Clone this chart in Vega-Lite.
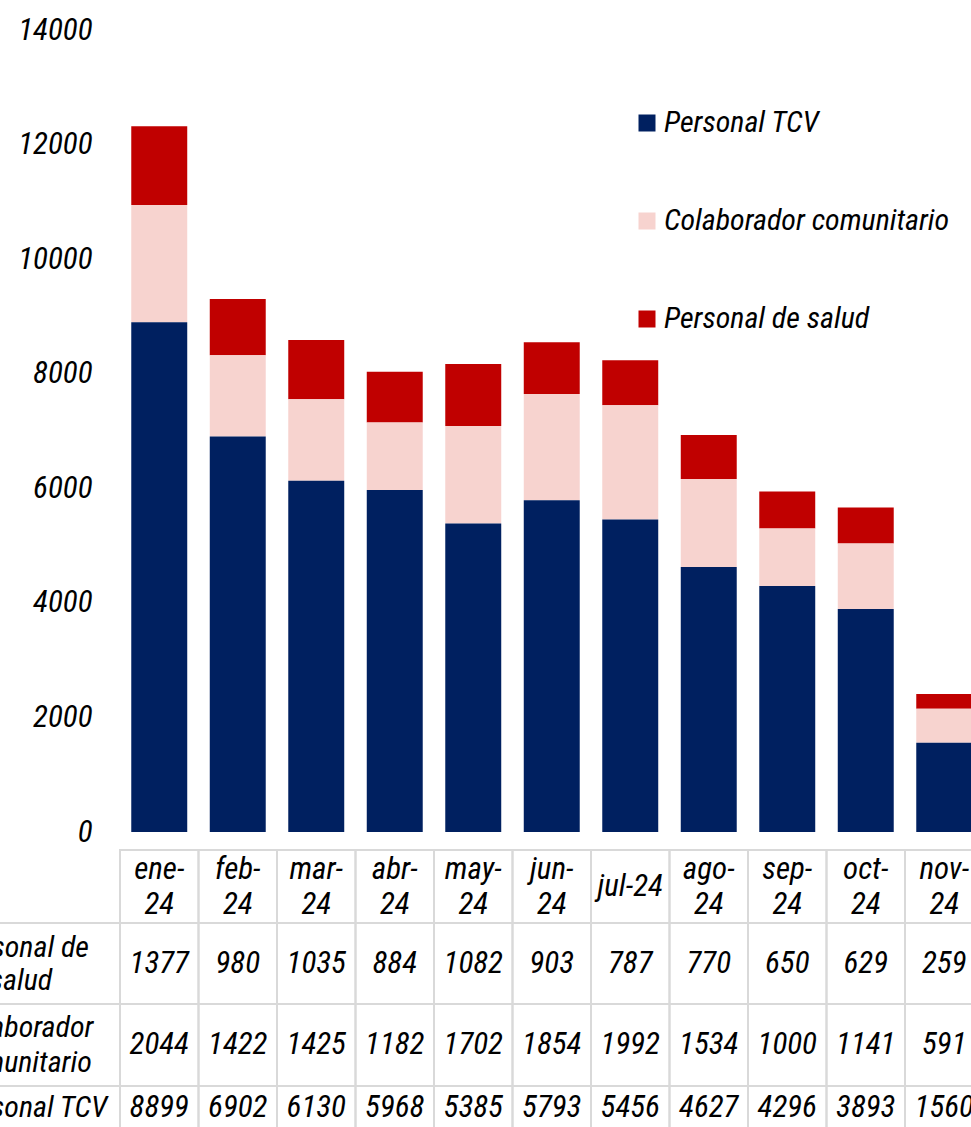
{
  "$schema": "https://vega.github.io/schema/vega-lite/v6.json",
  "width": 971,
  "height": 1127,
  "autosize": {"type": "none"},
  "padding": 0,
  "background": "white",
  "config": {
    "view": {"stroke": null},
    "font": "'Roboto Condensed', 'Noto Sans Condensed', 'Arial Narrow', 'Liberation Sans Narrow', 'DejaVu Sans Condensed', 'Liberation Sans', sans-serif",
    "text": {"font": "'Roboto Condensed', 'Noto Sans Condensed', 'Arial Narrow', 'Liberation Sans Narrow', 'DejaVu Sans Condensed', 'Liberation Sans', sans-serif", "fontSize": 31, "fontStyle": "italic", "color": "black", "align": "center", "baseline": "middle", "lineHeight": 34}
  },
  "datasets": {
    "valores": [
      {"mes": "ene-24", "serie": "Personal de salud", "valor": 1377},
      {"mes": "feb-24", "serie": "Personal de salud", "valor": 980},
      {"mes": "mar-24", "serie": "Personal de salud", "valor": 1035},
      {"mes": "abr-24", "serie": "Personal de salud", "valor": 884},
      {"mes": "may-24", "serie": "Personal de salud", "valor": 1082},
      {"mes": "jun-24", "serie": "Personal de salud", "valor": 903},
      {"mes": "jul-24", "serie": "Personal de salud", "valor": 787},
      {"mes": "ago-24", "serie": "Personal de salud", "valor": 770},
      {"mes": "sep-24", "serie": "Personal de salud", "valor": 650},
      {"mes": "oct-24", "serie": "Personal de salud", "valor": 629},
      {"mes": "nov-24", "serie": "Personal de salud", "valor": 259},
      {"mes": "ene-24", "serie": "Colaborador comunitario", "valor": 2044},
      {"mes": "feb-24", "serie": "Colaborador comunitario", "valor": 1422},
      {"mes": "mar-24", "serie": "Colaborador comunitario", "valor": 1425},
      {"mes": "abr-24", "serie": "Colaborador comunitario", "valor": 1182},
      {"mes": "may-24", "serie": "Colaborador comunitario", "valor": 1702},
      {"mes": "jun-24", "serie": "Colaborador comunitario", "valor": 1854},
      {"mes": "jul-24", "serie": "Colaborador comunitario", "valor": 1992},
      {"mes": "ago-24", "serie": "Colaborador comunitario", "valor": 1534},
      {"mes": "sep-24", "serie": "Colaborador comunitario", "valor": 1000},
      {"mes": "oct-24", "serie": "Colaborador comunitario", "valor": 1141},
      {"mes": "nov-24", "serie": "Colaborador comunitario", "valor": 591},
      {"mes": "ene-24", "serie": "Personal TCV", "valor": 8899},
      {"mes": "feb-24", "serie": "Personal TCV", "valor": 6902},
      {"mes": "mar-24", "serie": "Personal TCV", "valor": 6130},
      {"mes": "abr-24", "serie": "Personal TCV", "valor": 5968},
      {"mes": "may-24", "serie": "Personal TCV", "valor": 5385},
      {"mes": "jun-24", "serie": "Personal TCV", "valor": 5793},
      {"mes": "jul-24", "serie": "Personal TCV", "valor": 5456},
      {"mes": "ago-24", "serie": "Personal TCV", "valor": 4627},
      {"mes": "sep-24", "serie": "Personal TCV", "valor": 4296},
      {"mes": "oct-24", "serie": "Personal TCV", "valor": 3893},
      {"mes": "nov-24", "serie": "Personal TCV", "valor": 1560}
    ],
    "meses": [
      {"mes": "ene-24", "etiqueta": ["ene-", "24"]},
      {"mes": "feb-24", "etiqueta": ["feb-", "24"]},
      {"mes": "mar-24", "etiqueta": ["mar-", "24"]},
      {"mes": "abr-24", "etiqueta": ["abr-", "24"]},
      {"mes": "may-24", "etiqueta": ["may-", "24"]},
      {"mes": "jun-24", "etiqueta": ["jun-", "24"]},
      {"mes": "jul-24", "etiqueta": ["jul-24"]},
      {"mes": "ago-24", "etiqueta": ["ago-", "24"]},
      {"mes": "sep-24", "etiqueta": ["sep-", "24"]},
      {"mes": "oct-24", "etiqueta": ["oct-", "24"]},
      {"mes": "nov-24", "etiqueta": ["nov-", "24"]}
    ],
    "filas": [
      {"serie": "Personal de salud", "rotulo": ["Personal de", "salud"]},
      {"serie": "Colaborador comunitario", "rotulo": ["Colaborador", "comunitario"]},
      {"serie": "Personal TCV", "rotulo": ["Personal TCV"]}
    ]
  },
  "layer": [
    {
      "data": {"name": "valores"},
      "transform": [{"calculate": "indexof(['Personal TCV', 'Colaborador comunitario', 'Personal de salud'], datum.serie)", "as": "orden_pila"}],
      "mark": {"type": "bar"},
      "encoding": {
        "x": {"field": "mes", "type": "nominal", "axis": null,
              "scale": {"type": "band", "domain": ["ene-24","feb-24","mar-24","abr-24","may-24","jun-24","jul-24","ago-24","sep-24","oct-24","nov-24"], "range": [120, 983.5], "paddingInner": 0.287, "paddingOuter": 0.1435}},
        "y": {"field": "valor", "type": "quantitative", "stack": "zero",
              "scale": {"domain": [0, 14000], "range": [832, 30], "nice": false},
              "axis": {"title": null, "values": [0,2000,4000,6000,8000,10000,12000,14000], "format": "d", "domain": false, "ticks": false, "grid": false, "labelPadding": 0, "offset": -92, "labelFont": "'Roboto Condensed', 'Noto Sans Condensed', 'Arial Narrow', 'Liberation Sans Narrow', 'DejaVu Sans Condensed', 'Liberation Sans', sans-serif", "labelFontSize": 31, "labelFontStyle": "italic", "labelColor": "black", "labelBaseline": "middle"}},
        "order": {"field": "orden_pila", "type": "quantitative", "sort": "ascending"},
        "color": {"field": "serie", "type": "nominal",
                  "scale": {"domain": ["Personal TCV", "Colaborador comunitario", "Personal de salud"], "range": ["#002060", "#F7D3CF", "#C00000"]},
                  "legend": {"title": null, "orient": "none", "legendX": 632, "legendY": 108, "symbolType": "square", "symbolSize": 289, "symbolStrokeWidth": 0, "labelFont": "'Roboto Condensed', 'Noto Sans Condensed', 'Arial Narrow', 'Liberation Sans Narrow', 'DejaVu Sans Condensed', 'Liberation Sans', sans-serif", "labelFontSize": 30, "labelFontStyle": "italic", "labelColor": "black", "labelOffset": 2, "rowPadding": 68, "labelLimit": 400, "padding": 0}}
      }
    },
    {
      "data": {"name": "meses"},
      "encoding": {
        "x": {"field": "mes", "type": "nominal", "axis": null,
              "scale": {"type": "band", "domain": ["ene-24","feb-24","mar-24","abr-24","may-24","jun-24","jul-24","ago-24","sep-24","oct-24","nov-24"], "range": [120, 983.5], "paddingInner": 0, "paddingOuter": 0}},
        "y": {"datum": "meses", "type": "nominal", "axis": null,
              "scale": {"type": "band", "domain": ["meses"], "range": [850, 923], "paddingInner": 0, "paddingOuter": 0}}
      },
      "layer": [
        {"mark": {"type": "rect", "fillOpacity": 0, "stroke": "#d9d9d9", "strokeWidth": 2}},
        {"transform": [{"filter": "length(datum.etiqueta) > 1"}],
         "mark": {"type": "text", "lineHeight": 35},
         "encoding": {"y": {"datum": "meses", "type": "nominal", "axis": null, "bandPosition": 0.27}, "text": {"field": "etiqueta"}}},
        {"transform": [{"filter": "length(datum.etiqueta) === 1"}],
         "mark": {"type": "text", "lineHeight": 34},
         "encoding": {"text": {"field": "etiqueta"}}}
      ]
    },
    {
      "encoding": {
        "y": {"field": "serie", "type": "nominal", "axis": null,
              "scale": {"type": "band", "domain": ["Personal de salud"], "range": [923, 1004], "paddingInner": 0, "paddingOuter": 0}}
      },
      "layer": [
        {
          "data": {"name": "valores"},
          "transform": [{"filter": "datum.serie === 'Personal de salud'"}],
          "encoding": {
            "x": {"field": "mes", "type": "nominal", "axis": null,
                  "scale": {"type": "band", "domain": ["ene-24","feb-24","mar-24","abr-24","may-24","jun-24","jul-24","ago-24","sep-24","oct-24","nov-24"], "range": [120, 983.5], "paddingInner": 0, "paddingOuter": 0}}
          },
          "layer": [
            {"mark": {"type": "rect", "fillOpacity": 0, "stroke": "#d9d9d9", "strokeWidth": 2}},
            {"mark": {"type": "text"}, "encoding": {"text": {"field": "valor", "type": "quantitative", "format": "d"}}}
          ]
        },
        {
          "data": {"name": "filas"},
          "transform": [{"filter": "datum.serie === 'Personal de salud'"}],
          "layer": [
            {"mark": {"type": "rule", "stroke": "#d9d9d9", "strokeWidth": 2},
             "encoding": {"y": {"field": "serie", "type": "nominal", "bandPosition": 0, "axis": null}}},
            {"mark": {"type": "text", "lineHeight": 33, "fontSize": 30},
             "encoding": {
               "x": {"datum": "rótulos", "type": "nominal", "axis": null, "scale": {"type": "band", "domain": ["rótulos"], "range": [-79, 121], "paddingInner": 0, "paddingOuter": 0}},
               "y": {"field": "serie", "type": "nominal", "bandPosition": 0.31, "axis": null},
               "text": {"field": "rotulo"}}}
          ]
        }
      ],
      "resolve": {"scale": {"x": "independent"}}
    },
    {
      "encoding": {
        "y": {"field": "serie", "type": "nominal", "axis": null,
              "scale": {"type": "band", "domain": ["Colaborador comunitario"], "range": [1004, 1086], "paddingInner": 0, "paddingOuter": 0}}
      },
      "layer": [
        {
          "data": {"name": "valores"},
          "transform": [{"filter": "datum.serie === 'Colaborador comunitario'"}],
          "encoding": {
            "x": {"field": "mes", "type": "nominal", "axis": null,
                  "scale": {"type": "band", "domain": ["ene-24","feb-24","mar-24","abr-24","may-24","jun-24","jul-24","ago-24","sep-24","oct-24","nov-24"], "range": [120, 983.5], "paddingInner": 0, "paddingOuter": 0}}
          },
          "layer": [
            {"mark": {"type": "rect", "fillOpacity": 0, "stroke": "#d9d9d9", "strokeWidth": 2}},
            {"mark": {"type": "text"}, "encoding": {"text": {"field": "valor", "type": "quantitative", "format": "d"}}}
          ]
        },
        {
          "data": {"name": "filas"},
          "transform": [{"filter": "datum.serie === 'Colaborador comunitario'"}],
          "layer": [
            {"mark": {"type": "rule", "stroke": "#d9d9d9", "strokeWidth": 2},
             "encoding": {"y": {"field": "serie", "type": "nominal", "bandPosition": 0, "axis": null}}},
            {"mark": {"type": "text", "lineHeight": 35, "fontSize": 30},
             "encoding": {
               "x": {"datum": "rótulos", "type": "nominal", "axis": null, "scale": {"type": "band", "domain": ["rótulos"], "range": [-77, 123], "paddingInner": 0, "paddingOuter": 0}},
               "y": {"field": "serie", "type": "nominal", "bandPosition": 0.295, "axis": null},
               "text": {"field": "rotulo"}}}
          ]
        }
      ],
      "resolve": {"scale": {"x": "independent"}}
    },
    {
      "encoding": {
        "y": {"field": "serie", "type": "nominal", "axis": null,
              "scale": {"type": "band", "domain": ["Personal TCV"], "range": [1086, 1130], "paddingInner": 0, "paddingOuter": 0}}
      },
      "layer": [
        {
          "data": {"name": "valores"},
          "transform": [{"filter": "datum.serie === 'Personal TCV'"}],
          "encoding": {
            "x": {"field": "mes", "type": "nominal", "axis": null,
                  "scale": {"type": "band", "domain": ["ene-24","feb-24","mar-24","abr-24","may-24","jun-24","jul-24","ago-24","sep-24","oct-24","nov-24"], "range": [120, 983.5], "paddingInner": 0, "paddingOuter": 0}}
          },
          "layer": [
            {"mark": {"type": "rect", "fillOpacity": 0, "stroke": "#d9d9d9", "strokeWidth": 2}},
            {"mark": {"type": "text"}, "encoding": {"text": {"field": "valor", "type": "quantitative", "format": "d"}}}
          ]
        },
        {
          "data": {"name": "filas"},
          "transform": [{"filter": "datum.serie === 'Personal TCV'"}],
          "layer": [
            {"mark": {"type": "rule", "stroke": "#d9d9d9", "strokeWidth": 2},
             "encoding": {"y": {"field": "serie", "type": "nominal", "bandPosition": 0, "axis": null}}},
            {"mark": {"type": "text", "fontSize": 30},
             "encoding": {
               "x": {"datum": "rótulos", "type": "nominal", "axis": null, "scale": {"type": "band", "domain": ["rótulos"], "range": [-70, 130], "paddingInner": 0, "paddingOuter": 0}},
               "text": {"field": "rotulo"}}}
          ]
        }
      ],
      "resolve": {"scale": {"x": "independent"}}
    }
  ],
  "resolve": {"scale": {"x": "independent", "y": "independent"}}
}
